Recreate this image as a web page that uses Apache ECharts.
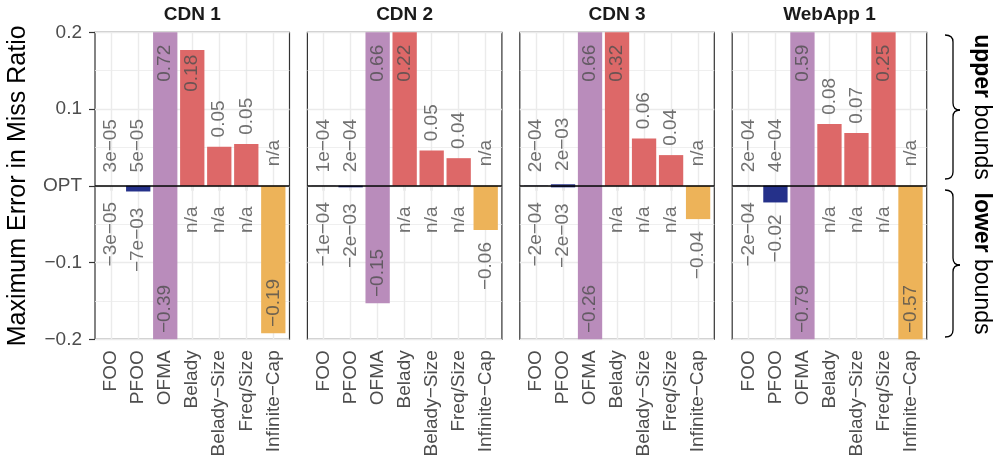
<!DOCTYPE html>
<html><head><meta charset="utf-8">
<script src="https://cdn.jsdelivr.net/npm/echarts@6/dist/echarts.min.js"></script>
<style>html,body{margin:0;padding:0;background:#fff}#c{width:999px;height:465px}</style>
</head><body><div id="c"></div>
<script>
const FONT = '"Liberation Sans", Arial, Helvetica, sans-serif';

// ---------- data ----------
const panels = ['CDN 1', 'CDN 2', 'CDN 3', 'WebApp 1'];
const methods = ['FOO', 'PFOO', 'OFMA', 'Belady', 'Belady\u2212Size', 'Freq/Size', 'Infinite\u2212Cap'];
const methodColors = ['#25318A', '#25318A', '#B98CBB', '#DD6868', '#DD6868', '#DD6868', '#EDB359'];

const upperCDN1 = [3e-5, 5e-5, 0.72, 0.177, 0.051, 0.0545, null];
const lowerCDN1 = [-3e-5, -0.0074, -0.39, null, null, null, -0.192];
const upperCDN2 = [1e-4, 2e-4, 0.66, 0.22, 0.046, 0.036, null];
const lowerCDN2 = [-1e-4, -0.002, -0.153, null, null, null, -0.0576];
const upperCDN3 = [2e-4, 0.002, 0.66, 0.32, 0.0617, 0.040, null];
const lowerCDN3 = [-2e-4, -0.002, -0.26, null, null, null, -0.0434];
const upperWebApp1 = [2e-4, 4e-4, 0.59, 0.0804, 0.0687, 0.25, null];
const lowerWebApp1 = [-2e-4, -0.0217, -0.79, null, null, null, -0.57];

const upperBounds = [upperCDN1, upperCDN2, upperCDN3, upperWebApp1];
const lowerBounds = [lowerCDN1, lowerCDN2, lowerCDN3, lowerWebApp1];

const Y_MIN = -0.2, Y_MAX = 0.2, Y_STEP = 0.1;
const yTitle = 'Maximum Error in Miss Ratio';

// ---------- layout ----------
const P = { left0: 95, step: 212.4, width: 194.5, top: 32.3, height: 307 };
const band = P.width / 7.2;
const barW = 0.9 * band;
const LABEL_SIZE = 19;

const ctx = document.createElement('canvas').getContext('2d');
ctx.font = LABEL_SIZE + 'px "Liberation Sans"';
const tw = s => ctx.measureText(s).width;
const pxVal = px => px * (Y_MAX - Y_MIN) / P.height;

function fmt(v) {
  if (v == null) return 'n/a';
  const a = Math.abs(v);
  let s;
  if (a < 0.01) {
    const parts = a.toExponential(0).split('e');
    const en = parseInt(parts[1], 10);
    s = parts[0] + 'e' + (en < 0 ? '\u2212' : '+') + String(Math.abs(en)).padStart(2, '0');
  } else {
    s = a.toFixed(2);
  }
  return (v < 0 ? '\u2212' : '') + s;
}

function labelItems(vals, upper) {
  return vals.map((v, i) => {
    const text = fmt(v);
    const w = tw(text);
    let y, align;
    if (upper) {
      if (v == null) { y = pxVal(19.5); align = 'left'; }
      else if (v >= 0.1) { y = Math.min(v, 0.19) - pxVal(0.13 * w); align = 'right'; }
      else { y = v + pxVal(0.25 * w); align = 'left'; }
    } else {
      if (v == null) { y = -pxVal(20.7); align = 'right'; }
      else if (v <= -0.1) { y = Math.max(v, Y_MIN) + pxVal(0.13 * w); align = 'left'; }
      else { y = v - pxVal(0.25 * w); align = 'right'; }
    }
    return { name: text, value: [i + 1, y], label: { align: align } };
  });
}

const xTickVals = methods.map((m, i) => i + 1);

const grid = [], xAxis = [], yAxis = [], series = [], graphic = [];
panels.forEach((name, k) => {
  const left = P.left0 + k * P.step;
  grid.push({ left: left, top: P.top, width: P.width, height: P.height, show: true,
    borderColor: '#333333', borderWidth: 1.2, backgroundColor: 'transparent' });
  xAxis.push({
    type: 'value', gridIndex: k, min: 0.4, max: 7.6,
    axisLine: { show: false }, splitLine: { show: false },
    axisTick: { show: true, customValues: xTickVals, length: 5, lineStyle: { color: '#333333', width: 1.2 } },
    axisLabel: { show: true, customValues: xTickVals, formatter: v => methods[Math.round(v) - 1],
      rotate: 90, margin: 11, fontSize: LABEL_SIZE, color: '#4D4D4D', fontFamily: FONT }
  });
  yAxis.push({
    type: 'value', gridIndex: k, min: Y_MIN, max: Y_MAX, interval: Y_STEP,
    axisLine: { show: false },
    axisTick: { show: k === 0, length: 6, lineStyle: { color: '#333333', width: 1.2 } },
    axisLabel: { show: k === 0, margin: 13, fontSize: LABEL_SIZE, color: '#4D4D4D', fontFamily: FONT,
      formatter: v => Math.abs(v) < 1e-9 ? 'OPT' : (v < 0 ? '\u2212' : '') + Math.abs(v).toFixed(1) },
    splitLine: { show: true, lineStyle: { color: '#EBEBEB', width: 1.4 } },
    minorTick: { show: false, splitNumber: 2 },
    minorSplitLine: { show: true, lineStyle: { color: '#EBEBEB', width: 0.8 } },
    name: k === 0 ? yTitle : '', nameLocation: 'middle', nameRotate: 90, nameGap: 64,
    nameTextStyle: { fontSize: 25, color: '#000000', fontFamily: FONT }
  });
  series.push({
    type: 'bar', xAxisIndex: k, yAxisIndex: k, barWidth: barW, barGap: '-100%', clip: true, z: 3,
    data: upperBounds[k].map((v, i) => [i + 1, v]),
    itemStyle: { color: p => methodColors[p.dataIndex] },
    markLine: { silent: true, symbol: ['none', 'none'], z: 10, animation: false,
      label: { show: false }, lineStyle: { color: '#000000', width: 1.7, type: 'solid' },
      data: [{ yAxis: 0 }] }
  });
  series.push({
    type: 'bar', xAxisIndex: k, yAxisIndex: k, barWidth: barW, barGap: '-100%', clip: true, z: 3,
    data: lowerBounds[k].map((v, i) => [i + 1, v]),
    itemStyle: { color: p => methodColors[p.dataIndex] }
  });
  series.push({
    type: 'scatter', xAxisIndex: k, yAxisIndex: k, symbolSize: 0, z: 5, silent: true,
    itemStyle: { color: 'transparent' },
    data: labelItems(upperBounds[k], true).concat(labelItems(lowerBounds[k], false)),
    label: { show: true, position: 'inside', rotate: 90, verticalAlign: 'middle',
      formatter: p => p.name, fontSize: LABEL_SIZE, color: '#4D4D4D', fontFamily: FONT },
    markLine: { silent: true, symbol: ['none', 'none'], z: 1, animation: false,
      label: { show: false }, lineStyle: { color: '#EBEBEB', width: 1.4, type: 'solid' },
      data: xTickVals.map(v => ({ xAxis: v })) }
  });
  graphic.push({ type: 'text', x: left + P.width / 2, y: 15,
    style: { text: name, align: 'center', verticalAlign: 'middle', fill: '#1A1A1A',
      font: 'bold 19px ' + FONT } });
});

// braces and side labels
const braceStyle = { fill: 'none', stroke: '#000000', lineWidth: 1.3 };
function addBrace(x, y0, ym, y1) {
  const xm = x + 7, xt = x - 8;
  const segs = [
    { type: 'bezierCurve', shape: { x1: xt, y1: y0, cpx1: xt + 5, cpy1: y0, cpx2: x, cpy2: y0 + 2, x2: x, y2: y0 + 7 } },
    { type: 'line', shape: { x1: x, y1: y0 + 7, x2: x, y2: ym - 7 } },
    { type: 'bezierCurve', shape: { x1: x, y1: ym - 7, cpx1: x, cpy1: ym - 3, cpx2: x + 2, cpy2: ym, x2: xm, y2: ym } },
    { type: 'bezierCurve', shape: { x1: xm, y1: ym, cpx1: x + 2, cpy1: ym, cpx2: x, cpy2: ym + 3, x2: x, y2: ym + 7 } },
    { type: 'line', shape: { x1: x, y1: ym + 7, x2: x, y2: y1 - 7 } },
    { type: 'bezierCurve', shape: { x1: x, y1: y1 - 7, cpx1: x, cpy1: y1 - 2, cpx2: xt + 5, cpy2: y1, x2: xt, y2: y1 } }
  ];
  segs.forEach(s => { s.style = braceStyle; graphic.push(s); });
}
const braces = [
  { y0: 35, ym: 110, y1: 179, bold: 'upper' },
  { y0: 190, ym: 265, y1: 337, bold: 'lower' }
];
braces.forEach(b => {
  addBrace(953, b.y0, b.ym, b.y1);
  graphic.push({ type: 'text', x: 981, y: (b.y0 + b.y1) / 2, rotation: -Math.PI / 2,
    style: { text: '{b|' + b.bold + '} bounds', align: 'center', verticalAlign: 'middle',
      fill: '#000000', font: '23px ' + FONT,
      rich: { b: { fontWeight: 'bold', fontSize: 23, fontFamily: FONT, fill: '#000000' } } } });
});

const chart = echarts.init(document.getElementById('c'), null, { renderer: 'canvas' });
chart.setOption({
  animation: false,
  textStyle: { fontFamily: FONT },
  grid: grid, xAxis: xAxis, yAxis: yAxis, series: series, graphic: graphic
});
</script>
</body></html>
